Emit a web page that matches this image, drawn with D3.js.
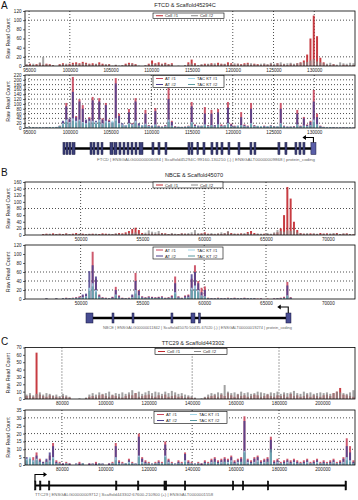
<!DOCTYPE html>
<html><head><meta charset="utf-8">
<script src="https://cdn.jsdelivr.net/npm/d3@7"></script>
<style>body{margin:0;background:#fff}svg{display:block;font-family:"Liberation Sans",Arial,sans-serif}</style>
</head><body><script>
// ---------- DATA ----------
// Panel A (bins of 405 bp starting at 94500)
const aBin0 = 94500, aBinW = 405;
const aXTicks = [95000,100000,105000,110000,115000,120000,125000,130000];
const a1YTicks = [0,20,40,60,80,100,120];
const a2YTicks = [0,20,40,60,80,100,120,140,160,180,200,220];
const a1_cell1 = [3,5,2,4,6,3,5,4,2,0, 4,6,3,5,7,8,6,9,7,5, 6,4,8,5,3,4,0,2,0,1, 5,7,6,4,0,0,1,5,12,6,
  8,5,7,4,6,0,0,0,1,8, 14,6,1,3,5,4,6,3,7,5, 4,8,6,3,5,4,6,7,3,5, 4,2,4,3,5,2,6,3,4,2, 5,3,6,8,12,25,60,110,65,18, 8,3,2,4,1,0,3,2,1,2];
const a1_cell2 = [4,3,5,3,8,20,4,3,2,0, 3,4,5,3,4,5,4,6,5,4, 3,5,4,3,4,3,1,3,1,2, 3,4,5,3,1,0,2,3,5,4,
  3,4,5,3,4,0,1,0,2,4, 5,3,2,4,3,5,4,6,3,4, 5,3,4,6,5,3,4,5,6,4, 3,5,6,4,7,5,6,8,5,6, 7,5,6,7,8,9,12,15,10,8, 6,5,7,4,3,8,6,5,7,6];
const a2_at1 = [2,1,3,2,1,2,3,1,2,4, 10,25,104,35,212,50,120,95,30,45, 129,25,124,40,104,35,20,207,60,15, 10,79,20,124,15,10,75,12,8,83,
  10,5,12,166,30,8,5,4,6,10, 108,15,8,10,87,12,75,10,79,15, 12,108,18,10,8,66,15,10,104,12, 8,6,10,5,12,8,6,104,10,5, 6,8,75,10,46,15,30,158,60,10, 5,3,2,4,2,1,3,2,1,2];
const a2_at2 = [1,2,1,1,2,1,2,2,1,3, 8,30,90,40,150,45,110,80,35,40, 115,30,110,35,95,30,25,185,50,20, 12,65,18,110,20,12,60,10,10,70,
  8,6,10,120,25,6,4,5,5,8, 90,12,10,8,60,10,60,12,65,10, 10,85,15,8,10,45,12,8,80,10, 6,5,8,6,10,6,5,80,8,6, 5,6,60,8,40,12,25,110,45,8, 4,2,3,3,1,2,2,1,2,1];
const a2_tac1 = [2,3,2,3,2,3,2,3,4,5, 10,20,35,25,40,30,35,25,20,30, 30,25,35,20,30,25,30,40,20,15, 12,20,15,30,10,12,18,8,6,15,
  6,4,8,35,10,5,6,4,5,8, 25,8,6,10,15,8,12,6,15,8, 10,20,8,6,10,12,8,6,20,8, 10,8,6,8,10,6,8,20,6,5, 6,5,15,6,10,8,12,35,15,6, 4,3,4,3,2,3,2,3,2,2];
const a2_tac2 = [3,2,4,2,3,2,3,4,3,4, 8,15,25,20,30,22,28,20,15,22, 22,18,25,15,22,20,22,30,15,10, 8,15,10,20,8,8,12,6,5,10,
  5,3,6,25,8,4,5,3,4,6, 18,6,5,8,10,6,10,5,12,6, 8,15,6,5,8,10,6,5,15,6, 8,6,5,6,8,5,6,15,5,4, 5,4,10,5,8,6,10,25,12,5, 3,2,3,2,2,2,1,2,2,1];
const geneA_span = [99160, 130100];
const geneA_tss = 129900;
const geneA_exons = [[99160,99410],[99530,99780],[99900,100140],[100270,100640],[102480,102720],[102840,103090],[103330,103580],[103830,104070],
  [104930,105300],[105420,105790],[106030,106280],[106530,106770],[107020,107260],[107510,107750],[108000,108240],[108490,108980],
  [110080,110330],[110820,111070],[111680,111920],[114500,114750],[114870,115110],[115600,115790],[116340,116590],[117320,117570],
  [117940,118180],[118550,118800],[119410,119650],[120640,120880],[122110,122350],[122600,122840],[125540,125790],[126400,126650],
  [127630,127870],[128120,128370],[128610,128860],[129590,130210]];

// Panel B (bins of 267 bp starting at 45500)
const bBin0 = 45500, bBinW = 267;
const bXTicks = [50000,55000,60000,65000,70000];
const b1YTicks = [0,20,40,60,80,100,120,140,160];
const b2YTicks = [0,20,40,60,80,100,120];
const b1_cell1 = [0,0,0,0,0,3,4,2,5,3, 4,3,5,2,4,6,3,4,2,3, 4,2,3,5,4,3,2,4,6,5, 8,12,18,22,15,6,3,4,5,3,
  4,6,5,3,4,2,3,5,4,3, 2,4,3,5,8,4,3,2,4,3, 5,10,6,3,4,5,3,9,12,6, 3,2,4,3,2,5,8,20,60,145, 110,40,15,6,4,3,5,4,3,6, 4,5,3,4,6,3,4,5,3,2];
const b1_cell2 = [0,0,0,0,0,2,3,4,2,3, 3,2,4,3,2,3,4,2,3,4, 3,4,2,3,2,4,3,5,4,3, 4,6,5,8,4,3,7,14,10,8,
  12,5,4,3,6,4,3,5,4,6, 8,15,6,4,5,3,6,4,5,8, 6,12,4,5,3,4,6,5,4,3, 5,4,3,6,4,8,15,12,10,14, 12,15,8,5,4,6,3,5,4,3, 4,3,5,6,4,3,5,4,3,2];
const b2_at1 = [0,0,0,0,0,0,2,0,0,2, 0,2,3,2,3,4,6,8,10,20, 105,45,10,4,3,2,5,27,8,3, 2,3,8,58,20,6,4,6,5,4,
  5,6,3,4,8,50,6,3,8,10, 45,75,40,25,28,3,2,2,3,2, 2,3,2,3,2,2,3,2,1,2, 1,1,0,1,0,1,2,3,5,38, 4,0,0,0,0,0,0,0,0,0, 0,0,0,0,0,0,0,0,0,0];
const b2_at2 = [0,0,0,0,0,0,1,0,0,1, 0,1,2,1,2,3,4,10,12,62, 75,50,8,3,2,1,4,20,6,2, 1,2,10,40,18,5,3,5,4,3,
  4,5,2,3,6,35,5,2,6,8, 55,60,35,15,20,2,1,1,2,1, 1,2,1,2,1,1,2,1,1,1, 0,1,0,0,0,1,1,2,3,30, 3,0,0,0,0,0,0,0,0,0, 0,0,0,0,0,0,0,0,0,0];
const b2_tac1 = [0,0,0,0,0,0,1,0,0,1, 0,1,1,1,2,2,3,4,6,25, 35,20,5,2,1,1,2,10,3,1, 1,1,4,20,8,3,2,3,2,2,
  2,3,1,2,3,15,3,1,3,4, 25,30,20,8,6,1,1,1,1,1, 1,1,1,1,1,1,1,1,1,1, 0,0,0,0,0,0,1,1,2,8, 1,0,0,0,0,0,0,0,0,0, 0,0,0,0,0,0,0,0,0,0];
const b2_tac2 = [0,0,0,0,0,0,1,0,0,1, 0,1,1,1,1,2,2,3,5,18, 28,15,4,2,1,1,2,8,2,1, 1,1,3,12,6,2,2,2,2,2,
  2,2,1,2,2,12,2,1,2,3, 20,22,15,6,4,1,1,1,1,1, 1,1,1,1,1,1,1,1,1,1, 0,0,0,0,0,0,1,1,2,6, 1,0,0,0,0,0,0,0,0,0, 0,0,0,0,0,0,0,0,0,0];
const geneB_span = [50435, 67000];
const geneB_tss = 66800;
const geneB_exons = [[50435,51000],[52540,52700],[54160,54320],[57310,57470],[58930,59250],[59540,59620],[66615,67020]];

// Panel C (bins of 1520 bp starting at 63000)
const cBin0 = 63000, cBinW = 1520;
const cXTicks = [80000,100000,120000,140000,160000,180000,200000];
const c1YTicks = [0,10,20,30,40,50,60,70];
const c2YTicks = [0,5,10,15,20,25,30,35];
const c1_cell1 = [4,5,3,63,6,4,3,5,4,3, 2,4,3,2,0,0,0,0,1,3, 4,3,5,6,4,3,5,4,3,2, 4,6,5,8,3,4,5,6,4,3,
  5,4,6,3,4,5,3,4,2,3, 2,1,0,0,2,3,4,5,3,6, 4,8,5,3,6,4,5,3,4,6, 5,3,4,6,4,3,5,4,6,3, 7,4,5,3,4,6,3,5,4,3, 5,6,4,8,10,15,6,5,4,3];
const c1_cell2 = [6,8,5,7,9,6,8,7,5,6, 4,7,5,3,0,0,1,0,2,6, 8,6,9,7,8,10,6,8,7,9, 7,9,12,8,10,7,9,11,8,10,
  9,7,10,8,11,9,7,8,6,5, 4,2,0,1,3,6,8,7,9,8, 19,10,8,9,7,10,8,9,7,8, 10,9,8,7,9,8,10,7,9,8, 9,11,8,7,10,8,9,7,8,9, 8,9,7,8,10,9,8,7,9,12];
const c2_at1 = [2,3,5,8,4,2,3,6,14,3, 2,1,2,1,0,1,2,1,0,1, 1,2,1,1,0,1,2,14,3,2, 1,4,2,1,20,5,3,2,1,2,
  3,2,15,4,2,1,3,2,8,3, 2,1,2,1,3,2,4,5,3,4, 5,4,6,3,4,5,31,4,3,5, 6,3,4,5,18,3,4,2,3,4, 3,4,3,2,3,4,2,3,4,2, 3,2,3,4,2,3,5,17,12,3];
const c2_at2 = [5,4,3,6,3,2,4,8,12,2, 1,1,1,1,0,1,1,1,0,1, 1,1,1,1,0,1,1,12,2,1, 1,3,1,1,18,4,2,1,1,1,
  2,1,13,3,1,1,2,1,7,2, 1,1,1,1,2,1,3,4,2,3, 4,3,5,2,3,4,28,3,2,4, 5,2,3,4,16,2,3,1,2,3, 2,3,2,1,2,3,1,2,3,1, 2,1,2,3,1,2,4,12,8,2];
const c2_tac1 = [4,5,3,4,2,1,2,3,5,1, 1,0,1,0,0,1,0,1,0,0, 1,0,1,1,0,0,1,5,1,1, 1,2,1,1,6,2,1,1,1,1,
  1,1,6,2,1,1,1,1,3,1, 1,1,1,0,1,1,2,2,1,2, 2,2,3,1,2,2,9,2,1,2, 3,1,2,2,8,1,2,1,1,2, 1,2,1,1,1,2,1,1,2,1, 1,1,1,2,1,1,2,5,3,1];
const c2_tac2 = [3,4,2,3,2,1,2,2,4,1, 1,0,1,0,0,0,0,1,0,0, 0,0,1,0,0,0,1,3,1,0, 1,1,1,0,5,1,1,1,0,1,
  1,1,5,1,1,0,1,1,2,1, 1,0,1,0,1,1,1,2,1,1, 2,1,2,1,1,2,8,1,1,1, 2,1,1,2,10,1,1,1,1,1, 1,1,1,1,1,1,1,1,1,1, 1,1,1,1,1,1,1,3,2,1];
const geneC_span = [67600, 210900];
const geneC_tss = 67600;
const geneC_exons = [[67400,68000],[69700,70300],[73800,74400],[104700,105300],[114800,115400],[127000,128300],[136400,137000],[158500,159100],[163100,163700],[174600,175200],[210400,211100]];

const titles = ["FTCD & Scaffold45294C", "NBCE & Scaffold45070", "TTC29 & Scaffold443302"];
const cellLabels = ["Cell #1", "Cell #2"];
const tacLabels = ["AT #1", "AT #2", "TAC KT #1", "TAC KT #2"];
const geneLabels = [
  "FTCD | ENSGALG00000006084 | Scaffold45294C:99160-130210 (-) | ENSGALT00000009868 | protein_coding",
  "NBCE | ENSGALG00000011842 | Scaffold45070:50435-67020 (-) | ENSGALT00000019274 | protein_coding",
  "TTC29 | ENSGALG00000009712 | Scaffold443302:67600-210900 (+) | ENSGALT0000001558"];

// ---------- DRAWING ----------
const C_RED = "#c1272d", C_GRAY = "#8a8a8a";
const C_AT1 = "#c9475d", C_AT2 = "#4b3f8e", C_T1 = "#a3d6e8", C_T2 = "#5b9ba2";
const W = 358, H = 500, L = 25, R = 355;
const svg = d3.select("body").append("svg").attr("width", W).attr("height", H);

function gridLine(g, x1, y1, x2, y2) {
  g.append("line").attr("x1", x1).attr("y1", y1).attr("x2", x2).attr("y2", y2)
    .attr("stroke", "#000").attr("stroke-width", 0.7).attr("stroke-dasharray", "1,2");
}

function plot(o) {
  const x = d3.scaleLinear().domain([o.bin0, o.bin0 + o.binW * o.series[0].v.length]).range([L, R]);
  const y = d3.scaleLinear().domain([0, d3.max(o.yTicks)]).range([o.b, o.t]);
  const g = svg.append("g");
  o.yGrid.forEach(v => gridLine(g, L, y(v), R, y(v)));
  o.xGrid.forEach(v => gridLine(g, x(v), o.t, x(v), o.b));
  const bw = (x(o.bin0 + o.binW) - x(o.bin0)) * 0.6;
  o.series.forEach(s => g.append("g").selectAll("rect").data(s.v).join("rect")
    .attr("x", (d, i) => x(o.bin0 + (i + 0.5) * o.binW) - bw / 2).attr("width", bw)
    .attr("y", d => y(d)).attr("height", d => o.b - y(d))
    .attr("fill", s.c).attr("fill-opacity", s.a));
  g.append("rect").attr("x", L).attr("y", o.t).attr("width", R - L).attr("height", o.b - o.t)
    .attr("fill", "none").attr("stroke", "#000").attr("stroke-width", 0.8);
  const ya = g.append("g").attr("transform", `translate(${L},0)`)
    .call(d3.axisLeft(y).tickValues(o.yTicks).tickSize(2).tickPadding(1.5).tickFormat(d3.format("d")));
  const xa = g.append("g").attr("transform", `translate(0,${o.b})`)
    .call(d3.axisBottom(x).tickValues(o.xTicks).tickSize(0).tickPadding(2.5).tickFormat(d3.format("d")));
  [ya, xa].forEach(a => {
    a.select(".domain").remove();
    a.selectAll("line").attr("stroke-width", 0.6);
    a.selectAll("text").attr("font-size", 4.6).attr("fill", "#222").attr("font-family", "Liberation Sans, Arial, sans-serif");
  });
  g.append("text").attr("transform", `translate(10,${(o.t + o.b) / 2}) rotate(-90)`)
    .attr("text-anchor", "middle").attr("font-size", 5.3).attr("fill", "#222").text("Raw Read Count");
  // legend
  const lg = o.leg;
  g.append("rect").attr("x", lg.x).attr("y", lg.y).attr("width", lg.w).attr("height", lg.h)
    .attr("fill", "#fff").attr("stroke", "#000").attr("stroke-width", 0.6);
  lg.items.forEach((it, i) => {
    const col = Math.floor(i / lg.rows), row = i % lg.rows;
    const ix = lg.x + 3 + col * lg.colW, iy = lg.y + lg.h / (lg.rows * 2) * (row * 2 + 1);
    g.append("line").attr("x1", ix).attr("x2", ix + 7).attr("y1", iy).attr("y2", iy).attr("stroke", it.c).attr("stroke-width", 1);
    g.append("text").attr("x", ix + 9).attr("y", iy + 1.5).attr("font-size", 4.2).attr("fill", "#222").text(it.t);
  });
  return x;
}

function gene(x, o) {
  const g = svg.append("g");
  g.append("line").attr("x1", x(o.span[0])).attr("x2", x(o.span[1])).attr("y1", o.y).attr("y2", o.y)
    .attr("stroke", "#000").attr("stroke-width", o.lw);
  o.exons.forEach((e, i) => {
    const last = o.lastLight && i === o.exons.length - 1;
    g.append("rect").attr("x", x(e[0])).attr("width", Math.max(o.minW, x(e[1]) - x(e[0])))
      .attr("y", o.y - o.h / 2).attr("height", o.h)
      .attr("fill", last ? "#5a5fa8" : o.fill).attr("stroke", o.stroke).attr("stroke-width", 0.5);
  });
  const tx = x(o.tss), top = o.y - o.h / 2, ay = top - o.ah, ex = tx + o.dir * o.al;
  g.append("path").attr("d", `M${tx},${top}V${ay}H${ex - o.dir * 2}`).attr("fill", "none").attr("stroke", "#000").attr("stroke-width", 1.1);
  g.append("path").attr("d", `M${ex},${ay}L${ex - o.dir * 3.5},${ay - 2.4}L${ex - o.dir * 3.5},${ay + 2.4}Z`).attr("fill", "#000");
  g.append("text").attr("x", o.tx0).attr("y", o.ty).attr("font-size", 4.3).attr("fill", "#666")
    .attr("textLength", o.tw).attr("lengthAdjust", "spacingAndGlyphs").text(o.label);
}

function title(letter, ly, t, tx, ty) {
  svg.append("text").attr("x", 1).attr("y", ly).attr("font-size", 10).attr("fill", "#111").text(letter);
  svg.append("text").attr("x", tx).attr("y", ty).attr("text-anchor", "middle").attr("font-size", 5.6).attr("fill", "#222").text(t);
}

// ---- Panel A ----
title("A", 8.5, titles[0], 185, 7);
const xA = plot({ t: 11, b: 66, bin0: aBin0, binW: aBinW, xTicks: aXTicks, yTicks: a1YTicks,
  yGrid: [20, 100], xGrid: [95000, 100000, 120000, 125000, 130000],
  series: [{ v: a1_cell1, c: C_RED, a: 0.9 }, { v: a1_cell2, c: C_GRAY, a: 0.75 }],
  leg: { x: 153, y: 13, w: 71, h: 5.5, rows: 1, colW: 35, items: [{ t: cellLabels[0], c: C_RED }, { t: cellLabels[1], c: C_GRAY }] } });
plot({ t: 75, b: 128, bin0: aBin0, binW: aBinW, xTicks: aXTicks, yTicks: a2YTicks,
  yGrid: a2YTicks.slice(1, -1), xGrid: [95000, 100000, 110000, 120000, 125000, 130000],
  series: [{ v: a2_at1, c: C_AT1, a: 0.9 }, { v: a2_at2, c: C_AT2, a: 0.85 }, { v: a2_tac1, c: C_T1, a: 0.85 }, { v: a2_tac2, c: C_T2, a: 0.8 }],
  leg: { x: 153, y: 75.5, w: 71, h: 12, rows: 2, colW: 32, items: tacLabels.map((t, i) => ({ t, c: [C_AT1, C_AT2, C_T1, C_T2][i] })) } });
gene(xA, { span: geneA_span, exons: geneA_exons, tss: geneA_tss, y: 148.5, h: 12, lw: 2.6, minW: 1.5, fill: "#3d417c", stroke: "#15153a",
  lastLight: true, dir: -1, ah: 5, al: 11, label: geneLabels[0], tx0: 97, ty: 161, tw: 218 });

// ---- Panel B ----
title("B", 176, titles[1], 194, 177);
const xB = plot({ t: 182, b: 235, bin0: bBin0, binW: bBinW, xTicks: bXTicks, yTicks: b1YTicks,
  yGrid: [20, 80, 140], xGrid: [50000, 60000, 65000],
  series: [{ v: b1_cell1, c: C_RED, a: 0.9 }, { v: b1_cell2, c: C_GRAY, a: 0.75 }],
  leg: { x: 153, y: 182, w: 70, h: 6, rows: 1, colW: 35, items: [{ t: cellLabels[0], c: C_RED }, { t: cellLabels[1], c: C_GRAY }] } });
plot({ t: 245, b: 299, bin0: bBin0, binW: bBinW, xTicks: bXTicks, yTicks: b2YTicks,
  yGrid: [20, 40, 60], xGrid: [50000, 60000, 65000],
  series: [{ v: b2_at1, c: C_AT1, a: 0.9 }, { v: b2_at2, c: C_AT2, a: 0.85 }, { v: b2_tac1, c: C_T1, a: 0.85 }, { v: b2_tac2, c: C_T2, a: 0.8 }],
  leg: { x: 153, y: 247, w: 70, h: 12, rows: 2, colW: 32, items: tacLabels.map((t, i) => ({ t, c: [C_AT1, C_AT2, C_T1, C_T2][i] })) } });
gene(xB, { span: geneB_span, exons: geneB_exons, tss: geneB_tss, y: 318, h: 10, lw: 2.4, minW: 1.8, fill: "#474c92", stroke: "#15153a",
  lastLight: false, dir: -1, ah: 6, al: 11, label: geneLabels[1], tx0: 103, ty: 329, tw: 189 });

// ---- Panel C ----
title("C", 345, titles[2], 193, 345);
const xC = plot({ t: 347.5, b: 399, bin0: cBin0, binW: cBinW, xTicks: cXTicks, yTicks: c1YTicks,
  yGrid: [], xGrid: [80000, 140000, 180000],
  series: [{ v: c1_cell1, c: C_RED, a: 0.9 }, { v: c1_cell2, c: C_GRAY, a: 0.8 }],
  leg: { x: 155, y: 348.5, w: 72, h: 6, rows: 1, colW: 36, items: [{ t: cellLabels[0], c: C_RED }, { t: cellLabels[1], c: C_GRAY }] } });
plot({ t: 410, b: 465, bin0: cBin0, binW: cBinW, xTicks: cXTicks, yTicks: c2YTicks,
  yGrid: [10, 15, 20, 30], xGrid: [80000, 140000, 180000],
  series: [{ v: c2_at1, c: C_AT1, a: 0.9 }, { v: c2_at2, c: C_AT2, a: 0.85 }, { v: c2_tac1, c: C_T1, a: 0.85 }, { v: c2_tac2, c: C_T2, a: 0.8 }],
  leg: { x: 154, y: 411.5, w: 73, h: 12, rows: 2, colW: 33, items: tacLabels.map((t, i) => ({ t, c: [C_AT1, C_AT2, C_T1, C_T2][i] })) } });
gene(xC, { span: geneC_span, exons: geneC_exons, tss: geneC_tss, y: 485.5, h: 9, lw: 2.2, minW: 1.4, fill: "#111", stroke: "#000",
  lastLight: false, dir: 1, ah: 6.5, al: 12, label: geneLabels[2], tx0: 35, ty: 496, tw: 178 });
</script></body></html>
